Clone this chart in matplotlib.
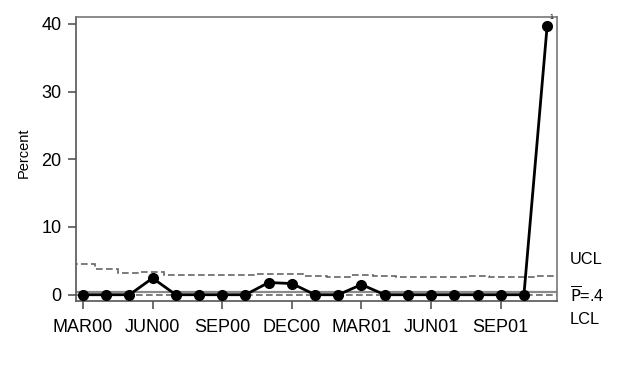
import numpy as np
import matplotlib
matplotlib.use("Agg")
import matplotlib.pyplot as plt

plt.rcParams['font.family'] = ['Liberation Sans', 'DejaVu Sans']

# monthly data, MAR00 .. NOV01
months = ['MAR00', 'APR00', 'MAY00', 'JUN00', 'JUL00', 'AUG00', 'SEP00',
          'OCT00', 'NOV00', 'DEC00', 'JAN01', 'FEB01', 'MAR01', 'APR01',
          'MAY01', 'JUN01', 'JUL01', 'AUG01', 'SEP01', 'OCT01', 'NOV01']
percent = [0, 0, 0, 2.45, 0, 0, 0, 0, 1.8, 1.65, 0, 0, 1.5, 0,
           0, 0, 0, 0, 0, 0, 39.7]
ucl = [4.5, 3.8, 3.2, 3.4, 2.85, 2.9, 2.9, 2.9, 3.05, 3.05, 2.8, 2.55, 2.85, 2.8,
       2.55, 2.55, 2.55, 2.8, 2.6, 2.6, 2.8]
pbar = 0.4
lcl = 0
tick_labels = ['MAR00', 'JUN00', 'SEP00', 'DEC00', 'MAR01', 'JUN01', 'SEP01']

x = np.arange(len(months))

fig = plt.figure(figsize=(6.2, 3.65), dpi=100)
ax = fig.add_axes([0.1226, 0.176, 0.776, 0.7774])

# control limits
ax.stairs(ucl, np.arange(len(months) + 1) - 0.5, color='#666666', linewidth=1.2,
          linestyle=(0, (4, 2)), baseline=None)
ax.axhline(lcl, color='#666666', linewidth=1.2, linestyle=(0, (4, 2)))
ax.axhline(pbar, color='#8a8a8a', linewidth=1.6)

# data
ax.plot(x, percent, color='black', linewidth=2, marker='o', markersize=7, zorder=5)
ax.text(x[-1] + 0.2, 40.4, '1', fontsize=5, ha='center', va='bottom')

ax.set_xlim(-0.3, 20.43)
ax.set_ylim(-0.89, 41.0)
ax.set_yticks([0, 10, 20, 30, 40])
ax.set_xticks(x[::3])
ax.set_xticklabels(tick_labels)
ax.tick_params(axis='both', labelsize=13, colors='#555555', labelcolor='black',
               length=5.5, width=1.2)
ax.tick_params(axis='y', pad=5)
ax.tick_params(axis='x', pad=7.5)
ax.set_ylabel('Percent', fontsize=10.5)
ax.yaxis.set_label_coords(-0.095, 0.52)

for s in ['left', 'bottom']:
    ax.spines[s].set_color('#555555')
    ax.spines[s].set_linewidth(1.2)
for s in ['top', 'right']:
    ax.spines[s].set_color('#777777')
    ax.spines[s].set_linewidth(1.2)

# limit labels at the right
fig.text(570 / 620, 1 - 259 / 365, 'UCL', fontsize=11.8, va='center', ha='left')
fig.text(570 / 620, 1 - 295 / 365, r'$\overline{\mathrm{P}}$=.4', fontsize=11.8,
         va='center', ha='left')
fig.text(570 / 620, 1 - 319 / 365, 'LCL', fontsize=11.8, va='center', ha='left')

fig.savefig('out.png', dpi=100, facecolor='white')
